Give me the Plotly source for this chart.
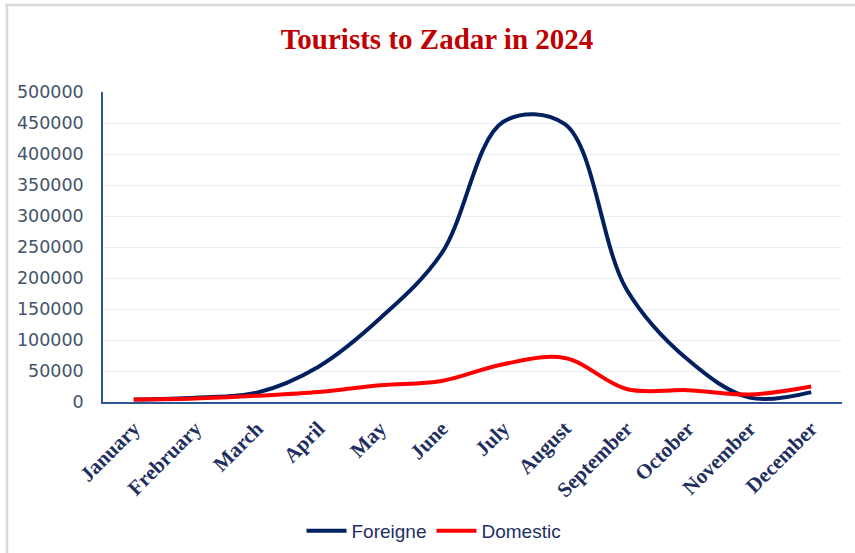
import plotly.graph_objects as go

months = ["January", "Frebruary", "March", "April", "May", "June", "July",
          "August", "September", "October", "November", "December"]
foreign = [4000, 7000, 15000, 57000, 135000, 240000, 452000, 448000, 182000, 68000, 7000, 16000]
domestic = [4000, 5500, 10000, 16000, 27000, 34000, 61000, 71000, 21000, 19000, 12000, 25000]
y_ticks = list(range(0, 500001, 50000))

fig = go.Figure()
fig.add_trace(go.Scatter(x=months, y=foreign, name="Foreigne", mode="lines",
                         line=dict(color="#002060", width=4, shape="spline", smoothing=1.0)))
fig.add_trace(go.Scatter(x=months, y=domestic, name="Domestic", mode="lines",
                         line=dict(color="#FF0000", width=4, shape="spline", smoothing=1.0)))

L, R, T, B = 103, 13, 92, 151
W, H = 855, 553
pw, ph = W - L - R, H - T - B

def px(x):
    return (x - L) / pw

def py(y):
    return (H - B - y) / ph

fig.update_layout(
    width=W, height=H,
    margin=dict(l=L, r=R, t=T, b=B, autoexpand=False),
    paper_bgcolor="white", plot_bgcolor="white",
    title=dict(text="<b>Tourists to Zadar in 2024</b>", x=437 / W, xanchor="center",
               y=1 - 39 / H, yanchor="middle", yref="container",
               font=dict(family="Liberation Serif", size=29, color="#C00000")),
    xaxis=dict(range=[-0.5, 11.5], showline=True, linecolor="#2F5597", linewidth=2,
               showgrid=False, tickangle=-45, ticks="", ticklabelstandoff=4, automargin=False,
               tickfont=dict(family="Liberation Serif", size=21, color="#1F2F5F", weight="bold")),
    yaxis=dict(range=[0, 500000], tickvals=y_ticks, tickformat="d", showline=True,
               linecolor="#2F5597", linewidth=1.5, gridcolor="#E8EEF7", gridwidth=1,
               ticks="", ticklabelstandoff=14, zeroline=False, automargin=False,
               tickfont=dict(family="DejaVu Sans", size=17.5, color="#44546A")),
    legend=dict(orientation="h", x=px(434), xanchor="center", y=py(531), yanchor="middle",
                font=dict(family="Liberation Sans", size=19, color="#1F2F5F"),
                itemwidth=40, tracegroupgap=0),
    showlegend=True,
    shapes=[
        dict(type="line", xref="paper", yref="paper", x0=px(7), x1=px(7), y0=py(5), y1=py(560),
             line=dict(color="#D9D9D9", width=2.5)),
        dict(type="line", xref="paper", yref="paper", x0=px(5), x1=px(870), y0=py(5), y1=py(5),
             line=dict(color="#D9D9D9", width=2.5)),
    ],
)

fig.write_html("out.html", config={"displayModeBar": False},
               post_script="document.body.style.margin='0';")
